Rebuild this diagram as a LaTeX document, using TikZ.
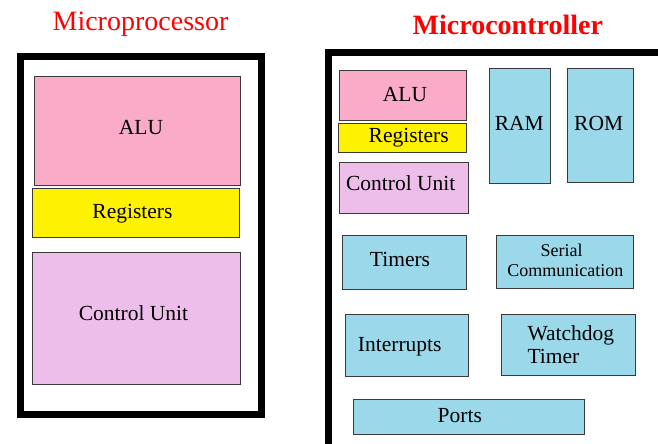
\documentclass[tikz,border=0pt]{standalone}
\usepackage{fontspec}
\setmainfont{Liberation Serif}
\newfontfamily\boxfont{Liberation Serif}
\definecolor{alupink}{HTML}{F9ABC8}
\definecolor{regyellow}{HTML}{FFF200}
\definecolor{culilac}{HTML}{EDBEEA}
\definecolor{periblue}{HTML}{9AD8EA}
\definecolor{edgegray}{HTML}{3A3A3A}
\begin{document}
\begin{tikzpicture}[x=1pt,y=-1pt,
  outerbox/.style={draw=black,line width=7pt,inner sep=0pt,anchor=north west},
  blk/.style={draw=edgegray,line width=1.3pt,inner sep=0pt,anchor=north west},
  lbl/.style={inner sep=0pt,anchor=base,font=\boxfont\fontsize{21.5}{24}\selectfont},
  lbll/.style={inner sep=0pt,anchor=base west,font=\boxfont\fontsize{21.5}{24}\selectfont},
  lbls/.style={inner sep=0pt,anchor=base,font=\boxfont\fontsize{18}{20}\selectfont},
  ttl/.style={inner sep=0pt,anchor=base,text=red,font=\boxfont\fontsize{28}{30}\selectfont}]
\useasboundingbox (0,0) rectangle (658,444);
\clip (0,0) rectangle (658,444);
% titles
\node[ttl] (t1) at (140.5,30.7) {Microprocessor};
\node[ttl,font=\boxfont\fontsize{28}{30}\selectfont\bfseries] (t2) at (507.8,35) {Microcontroller};
% outer frames
\node[outerbox,minimum width=241pt,minimum height=358pt] (mp) at (17,53) {};
\node[outerbox,minimum width=400pt,minimum height=450pt] (mc) at (325,49.5) {};
% microprocessor parts
\node[blk,fill=alupink,minimum width=206pt,minimum height=109pt] (alu1) at (34,76) {};
\node[blk,fill=regyellow,minimum width=207pt,minimum height=49pt] (reg1) at (32,188) {};
\node[blk,fill=culilac,minimum width=208pt,minimum height=132pt] (cu1) at (32,252) {};
\node[lbl] (alu1t) at (141,134) {ALU};
\node[lbl] (reg1t) at (132.5,218) {Registers};
\node[lbl] (cu1t) at (133.5,320) {Control Unit};
% microcontroller parts
\node[blk,fill=alupink,minimum width=127pt,minimum height=50pt] (alu2) at (339,70) {};
\node[blk,fill=regyellow,minimum width=128pt,minimum height=29pt] (reg2) at (338,123) {};
\node[blk,fill=culilac,minimum width=129pt,minimum height=51pt] (cu2) at (339,162) {};
\node[blk,fill=periblue,minimum width=61pt,minimum height=115pt] (ram) at (489,68) {};
\node[blk,fill=periblue,minimum width=66pt,minimum height=114pt] (rom) at (567,68) {};
\node[blk,fill=periblue,minimum width=124pt,minimum height=54pt] (tim) at (342,235) {};
\node[blk,fill=periblue,minimum width=137pt,minimum height=53pt] (ser) at (496,235) {};
\node[blk,fill=periblue,minimum width=123pt,minimum height=62pt] (intr) at (345,314) {};
\node[blk,fill=periblue,minimum width=134pt,minimum height=61pt] (wdt) at (501,314) {};
\node[blk,fill=periblue,minimum width=231pt,minimum height=35pt] (ports) at (353,399) {};
\node[lbl] (alu2t) at (405,101.7) {ALU};
\node[lbl] (reg2t) at (408.7,142.7) {Registers};
\node[lbl] (cu2t) at (400.7,190.7) {Control Unit};
\node[lbl] (ramt) at (519.3,130) {RAM};
\node[lbl] (romt) at (598.7,130) {ROM};
\node[lbl] (timt) at (400,266.7) {Timers};
\node[lbls] (sert1) at (561.7,256) {Serial};
\node[lbls] (sert2) at (565.3,276.7) {Communication};
\node[lbl] (intrt) at (399.7,351.7) {Interrupts};
\node[lbll] (wdtt1) at (527.3,340) {Watchdog};
\node[lbll] (wdtt2) at (527.3,363.3) {Timer};
\node[lbl] (portst) at (459.8,422.7) {Ports};
\end{tikzpicture}
\end{document}
